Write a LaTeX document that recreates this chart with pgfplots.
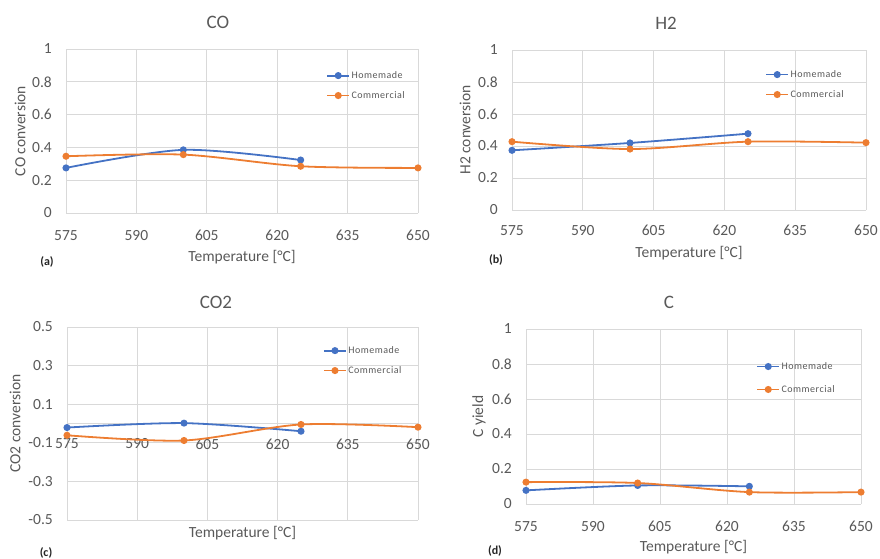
\documentclass[border=0pt]{standalone}
\usepackage{pgfplots}
\pgfplotsset{compat=1.18}
\usepackage{fontspec}
\setmainfont{Carlito}
\newfontfamily\legfont[LetterSpace=5]{Carlito}
\definecolor{xblue}{HTML}{4472C4}
\definecolor{xorange}{HTML}{ED7D31}
\definecolor{txt}{HTML}{595959}
\definecolor{gridc}{HTML}{D9D9D9}
\definecolor{lab}{HTML}{262626}

\pgfplotsset{
 panel/.style={
  scale only axis, anchor=south west, clip=false,
  xmin=575, xmax=650, xtick={575,590,...,650},
  grid=major, major grid style={draw=gridc, line width=0.75pt},
  axis line style={draw=none}, tick style={draw=none}, major tick length=0pt,
  /pgf/number format/assume math mode=true,
  ticklabel style={font=\fontsize{15.5}{18}\selectfont, text=txt},
  xticklabel style={anchor=north, inner sep=0pt},
  yticklabel style={anchor=east, inner sep=0pt, xshift=-14pt, /pgf/number format/fixed, /pgf/number format/precision=1},
  label style={font=\fontsize{15.5}{18}\selectfont, text=txt},
  xlabel={Temperature [°C]},
  xlabel style={anchor=center},
  ylabel style={anchor=center},
  legend style={draw=none, fill=none, font=\legfont\fontsize{10}{11}\selectfont, text=txt, inner sep=0pt, anchor=west, nodes={inner sep=1.5pt}},
  legend cell align=left,
  legend image code/.code={\draw[mark repeat=2,mark phase=2,##1] plot coordinates {(0pt,0pt)(11pt,0pt)(22pt,0pt)};},
 },
 hm/.style={color=xblue, line width=1.8pt, smooth, mark=*, mark size=2.6pt, mark options={solid}},
 cm/.style={color=xorange, line width=1.8pt, smooth, mark=*, mark size=2.6pt, mark options={solid}},
}

\begin{document}
\begin{tikzpicture}
\useasboundingbox (0,0) rectangle (880pt,558pt);

% ---------- (a) CO ----------
\begin{axis}[panel, at={(66pt,345pt)}, width=352pt, height=164pt,
  ymin=0, ymax=1, ytick={0,0.2,...,1},
  xticklabel style={yshift=-17pt},
  ylabel={CO conversion},
  xlabel style={at={(axis description cs:0.5,-0.2683)}},
  ylabel style={at={(axis description cs:-0.1307,0.5)}},
  legend style={at={(0.739,0.777)}, row sep=8.5pt}]
\addplot[hm] coordinates {(575,0.275)(600,0.385)(625,0.323)};
\addlegendentry{Homemade}
\addplot[cm] coordinates {(575,0.346)(600,0.356)(625,0.285)(650,0.275)};
\addlegendentry{Commercial}
\end{axis}

% ---------- (b) H2 ----------
\begin{axis}[panel, at={(512pt,348pt)}, width=354pt, height=160pt,
  ymin=0, ymax=1, ytick={0,0.2,...,1},
  xticklabel style={yshift=-15pt},
  ylabel={H2 conversion},
  xlabel style={at={(axis description cs:0.5,-0.2688)}},
  ylabel style={at={(axis description cs:-0.1328,0.5)}},
  legend style={at={(0.715,0.784)}, row sep=8.5pt}]
\addplot[hm] coordinates {(575,0.373)(600,0.419)(625,0.477)};
\addlegendentry{Homemade}
\addplot[cm] coordinates {(575,0.427)(600,0.381)(625,0.427)(650,0.421)};
\addlegendentry{Commercial}
\end{axis}

% ---------- (c) CO2 ----------
\begin{axis}[panel, at={(67pt,38pt)}, width=351pt, height=193pt,
  ymin=-0.5, ymax=0.5, ytick={-0.5,-0.3,-0.1,0.1,0.3,0.5},
  extra y ticks={0}, extra y tick labels={}, extra y tick style={grid=major},
  xticklabel style={yshift=81.5pt},
  ylabel={CO2 conversion},
  xlabel style={at={(axis description cs:0.5,-0.0674)}},
  ylabel style={at={(axis description cs:-0.1481,0.5)}},
  legend style={at={(0.729,0.826)}, row sep=8.5pt}]
\addplot[hm] coordinates {(575,-0.021)(600,0.002)(625,-0.040)};
\addlegendentry{Homemade}
\addplot[cm] coordinates {(575,-0.061)(600,-0.088)(625,-0.005)(650,-0.019)};
\addlegendentry{Commercial}
\end{axis}

% ---------- (d) C ----------
\begin{axis}[panel, at={(526pt,54pt)}, width=335pt, height=175pt,
  ymin=0, ymax=1, ytick={0,0.2,...,1},
  xticklabel style={yshift=-17pt},
  ylabel={C yield},
  xlabel style={at={(axis description cs:0.5,-0.2457)}},
  ylabel style={at={(axis description cs:-0.1403,0.5)}},
  legend style={at={(0.687,0.72)}, row sep=11.5pt}]
\addplot[hm] coordinates {(575,0.078)(600,0.106)(625,0.101)};
\addlegendentry{Homemade}
\addplot[cm] coordinates {(575,0.125)(600,0.120)(625,0.068)(650,0.068)};
\addlegendentry{Commercial}
\end{axis}

% titles
\node[font=\fontsize{19}{22}\selectfont, text=txt] at (218pt,536pt) {CO};
\node[font=\fontsize{19}{22}\selectfont, text=txt] at (666pt,535pt) {H2};
\node[font=\fontsize{19}{22}\selectfont, text=txt] at (216pt,256pt) {CO2};
\node[font=\fontsize{19}{22}\selectfont, text=txt] at (669pt,256pt) {C};
% panel letters
\node[font=\bfseries\fontsize{12}{14}\selectfont, text=lab] at (47pt,296pt) {(a)};
\node[font=\bfseries\fontsize{12}{14}\selectfont, text=lab] at (496pt,298pt) {(b)};
\node[font=\bfseries\fontsize{12}{14}\selectfont, text=lab] at (46pt,5pt) {(c)};
\node[font=\bfseries\fontsize{12}{14}\selectfont, text=lab] at (495pt,7pt) {(d)};
\end{tikzpicture}
\end{document}
